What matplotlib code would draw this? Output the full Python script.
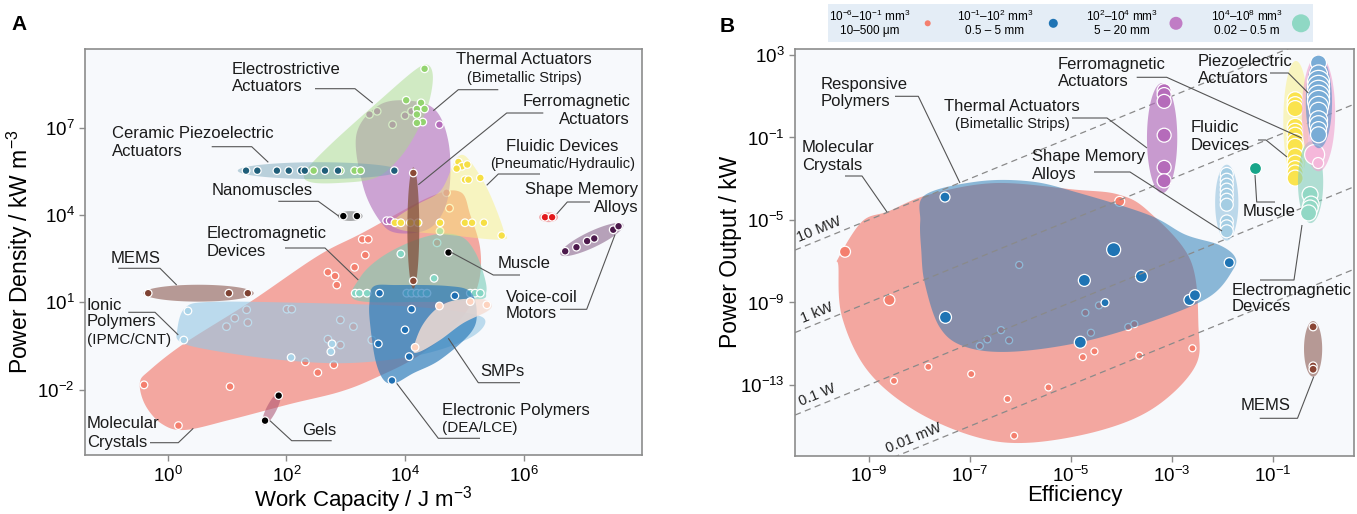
import numpy as np
import matplotlib
matplotlib.use("Agg")
import matplotlib.pyplot as plt
from matplotlib.patches import Polygon

plt.rcParams['font.family'] = ['Liberation Sans', 'DejaVu Sans']
plt.rcParams['mathtext.fontset'] = 'custom'
plt.rcParams['mathtext.rm'] = 'Liberation Sans'
plt.rcParams['mathtext.it'] = 'Liberation Sans:italic'
plt.rcParams['mathtext.bf'] = 'Liberation Sans:bold'
plt.rcParams['mathtext.sf'] = 'Liberation Sans'

# ---------------- DATA (log10 values) ----------------
# Panel A : x = log10 work capacity (J m^-3), y = log10 power density (kW m^-3)
A_mol_x = [-0.40, 1.05, 0.18, 2.32, 2.53, 2.80, 2.70, 2.82, 2.85, 3.15, 3.33, 3.28, 3.38, 4.75, 4.70, 4.54,
           1.33, 1.13, 0.99, 1.35, 2.01, 2.09, 2.91, 3.13, 2.70, 2.91, 3.44]
A_mol_y = [-1.84, -1.90, -3.24, -1.05, -1.42, -1.15, 2.03, 1.90, 1.59, 2.20, 2.62, 3.16, 3.16, 4.23, 4.76, 3.04,
           0.74, 0.45, 0.16, 0.30, 0.76, 0.76, 0.39, 0.16, -0.27, -0.47, -0.30]
A_mol_reg_x = [-0.47, -0.38, -0.10, 0.29, 1.05, 2.06, 2.90, 3.50, 4.25, 4.93, 5.23, 5.27, 5.10, 4.93, 4.42, 3.28, 2.53, 1.39, 0.29, -0.30]
A_mol_reg_y = [-1.77, -2.53, -3.18, -3.39, -3.04, -2.50, -2.08, -1.60, -0.81, 0.39, 1.59, 2.80, 4.00, 4.79, 4.62, 3.38, 2.59, 1.01, -0.40, -1.33]

A_ion_x = [0.34, 0.27, 2.08, 2.77, 2.75]
A_ion_y = [0.70, -0.30, -0.90, -0.43, -0.70]
A_ion_reg_x = [0.16, 0.29, 0.71, 2.23, 3.92, 4.93, 5.35, 5.10, 4.25, 3.07, 1.89, 0.71, 0.21]
A_ion_reg_y = [0.05, 0.80, 1.01, 0.98, 0.87, 0.67, 0.39, -0.22, -0.81, -1.09, -0.98, -0.64, -0.36]

A_emd_x = [3.93, 4.49, 3.16, 3.23, 3.36, 4.03, 4.11, 4.20, 4.28, 4.37, 5.10, 5.18, 5.27, 4.59]
A_emd_y = [2.66, 1.82, 1.31, 1.31, 1.31, 1.31, 1.31, 1.31, 1.31, 1.31, 1.31, 1.31, 1.31, 3.44]
A_emd_reg_x = [3.16, 3.24, 3.58, 4.09, 4.59, 4.96, 5.18, 5.33, 5.37, 5.23, 4.25]
A_emd_reg_y = [1.08, 1.84, 2.52, 3.07, 3.35, 3.24, 2.73, 1.94, 1.35, 1.08, 1.01]

A_elp_x = [3.57, 4.84, 4.11, 4.00, 3.55, 4.07, 3.78]
A_elp_y = [1.31, 1.22, 0.76, 0.05, -0.43, -0.87, -1.69]
A_elp_reg_x = [3.47, 3.86, 4.70, 5.10, 5.21, 5.10, 4.59, 4.14, 3.83, 3.64, 3.50, 3.41, 3.40]
A_elp_reg_y = [1.54, 1.59, 1.56, 1.36, 0.62, -0.07, -0.98, -1.44, -1.78, -1.67, -0.98, 0.28, 0.97]

A_smp_x = [4.58, 5.10, 5.38, 4.17]
A_smp_y = [0.87, 1.02, 0.91, -0.55]
A_smp_reg_x = [4.14, 4.28, 4.54, 4.87, 5.32, 5.46, 5.38, 4.98, 4.59, 4.25]
A_smp_reg_y = [-0.64, 0.16, 0.79, 1.08, 1.10, 0.91, 0.68, 0.28, -0.30, -0.70]

A_thm_x = [3.40, 3.53, 3.79, 4.00, 4.11, 4.58, 3.69, 3.75]
A_thm_y = [7.45, 7.56, 7.10, 7.41, 7.56, 7.10, 3.80, 3.80]
A_thm_reg_x = [3.18, 3.58, 4.14, 4.53, 4.73, 4.76, 4.65, 4.37, 3.86, 3.58, 3.30]
A_thm_reg_y = [6.76, 7.79, 7.91, 7.56, 6.53, 5.16, 4.13, 3.49, 3.38, 3.78, 4.94]

A_els_x = [4.33, 4.02, 4.27, 4.20, 4.33, 4.20, 4.30, 4.20, 2.46, 2.91, 3.15, 3.25]
A_els_y = [9.02, 7.94, 7.85, 7.64, 7.64, 7.45, 7.19, 7.16, 5.52, 5.52, 5.52, 5.52]
A_els_reg_x = [4.39, 4.47, 4.39, 4.17, 3.88, 3.50, 2.91, 2.40, 2.32, 2.74, 3.58, 4.17]
A_els_reg_y = [9.15, 8.71, 7.78, 6.75, 5.89, 5.27, 5.10, 5.13, 5.48, 6.41, 7.95, 8.98]

A_cer_x = [1.32, 1.51, 1.84, 2.04, 2.25, 2.31, 2.65, 2.87, 3.82]
A_cer_y = [5.52, 5.52, 5.52, 5.52, 5.52, 5.52, 5.52, 5.52, 5.52]
A_cer_ell = (2.54, 5.52, 1.36, 0.29)

A_flu_x = [4.90, 4.96, 5.05, 4.87, 5.01, 5.07, 5.27, 3.83, 3.93, 4.09, 4.22, 4.59, 5.01, 5.13, 5.33, 5.63]
A_flu_y = [5.82, 5.67, 5.73, 5.59, 5.21, 5.21, 5.27, 3.73, 3.73, 3.73, 3.73, 3.73, 3.73, 3.73, 3.73, 3.29]
A_flu_reg_x = [4.87, 5.04, 5.38, 5.66, 5.63, 4.70, 3.92, 3.83, 4.20, 4.59, 4.79]
A_flu_reg_y = [5.96, 5.98, 4.93, 3.49, 3.15, 3.32, 3.49, 3.84, 4.35, 4.81, 5.62]

A_fer_x = [4.14, 4.14]
A_fer_y = [5.44, 1.73]
A_fer_ell = (4.14, 3.55, 0.10, 2.08)

A_mem_x = [-0.33, 1.03, 1.35]
A_mem_y = [1.31, 1.31, 1.31]
A_mem_ell = (0.52, 1.31, 0.93, 0.29)

A_gel_x = [1.87, 1.64]
A_gel_y = [-2.21, -3.07]
A_gel_cap = (1.89, -2.11, 1.61, -3.22, 5)

A_nan_x = [2.96, 3.19]
A_nan_y = [3.96, 3.96]
A_nan_ell = (3.075, 3.96, 0.21, 0.17)

A_sma_x = [6.36, 6.48]
A_sma_y = [3.92, 3.92]
A_sma_ell = (6.42, 3.92, 0.16, 0.17)

A_vcm_x = [6.70, 6.89, 7.07, 7.19, 7.51, 7.60]
A_vcm_y = [2.75, 2.89, 3.10, 3.19, 3.49, 3.61]
A_vcm_cap = (6.62, 2.64, 7.68, 3.67, 8)

A_mus_x = [4.73]
A_mus_y = [2.74]

# Panel B : x = log10 efficiency, y = log10 power output (kW)
B_mol_x = [-9.47, -8.59, -8.50, -7.82, -6.97, -6.25, -5.44, -6.12, -4.76, -4.53, -3.64, -2.59, -4.03,
           -6.02, -6.80, -6.65, -6.38, -6.22, -4.71, -4.44, -4.60, -3.86, -3.74]
B_mol_y = [-6.54, -8.88, -12.80, -12.12, -12.47, -13.68, -13.12, -15.46, -11.65, -11.37, -11.58, -11.22, -4.10,
           -7.18, -11.11, -10.79, -10.34, -10.84, -9.50, -9.14, -10.47, -10.19, -10.05]
B_mol_d = [11, 11, 7, 7, 7, 7, 7, 7, 7, 7, 7, 7, 10, 7, 7, 7, 7, 7, 7, 7, 7, 7, 7]
B_mol_reg_x = [-9.60, -9.13, -8.61, -7.82, -6.50, -4.91, -4.05, -3.46, -2.63, -2.47, -2.54, -3.32, -4.39, -5.82, -6.89, -8.10, -9.03, -9.53, -9.60]
B_mol_reg_y = [-6.84, -5.07, -4.58, -3.78, -3.21, -3.53, -3.77, -4.58, -6.94, -10.18, -12.12, -14.06, -15.19, -15.80, -15.51, -14.22, -12.28, -9.69, -7.27]

B_rsp_x = [-7.49, -4.15, -7.48, -4.73, -3.60, -1.86, -4.32, -2.65, -2.54, -4.81]
B_rsp_y = [-3.89, -6.44, -9.72, -7.93, -7.73, -7.07, -9.01, -8.88, -8.65, -10.93]
B_rsp_d = [10, 14, 12, 12, 12, 10, 8, 11, 11, 12]
B_rsp_reg_x = [-7.88, -6.83, -5.80, -4.91, -3.46, -2.73, -2.07, -1.75, -1.79, -2.25, -3.32, -4.75, -6.18, -7.10, -7.60, -7.89, -7.96, -7.98]
B_rsp_reg_y = [-3.78, -3.13, -3.13, -3.64, -4.75, -5.71, -6.20, -6.78, -7.43, -8.72, -9.85, -10.90, -11.39, -11.14, -10.18, -8.07, -6.46, -5.07]

B_thm_x = [-3.15, -3.15, -3.15, -3.15, -3.15, -3.15]
B_thm_y = [1.27, 1.08, 0.75, -0.89, -2.45, -3.10]
B_thm_ell = (-3.19, -1.03, 0.30, 2.67)

B_sma_x = [-1.91] * 10
B_sma_y = [-2.77, -3.05, -3.29, -3.53, -3.78, -4.02, -4.26, -5.07, -5.31, -5.55]
B_sma_ell = (-1.91, -4.16, 0.23, 1.84)

B_mus_x = [-1.35]
B_mus_y = [-2.48]

B_flu_x = [-0.555] * 13
B_flu_y = [0.83, 0.59, 0.40, -0.46, -0.70, -0.89, -1.19, -1.43, -1.91, -2.24, -2.51, -2.72, -2.97]
B_flu_ell = (-0.54, -0.25, 0.25, 2.96)

B_emd_x = [-0.26, -0.24, -0.26, -0.29]
B_emd_y = [-3.77, -4.23, -4.42, -4.66]
B_emd_ell = (-0.25, -3.17, 0.25, 1.98)

B_fer_x = [-0.17, -0.10]
B_fer_y = [-1.83, -2.24]
B_fer_d = [20, 11]
B_fer_ell = (-0.093, 0.19, 0.33, 2.83)

B_pie_x = [-0.093] * 13
B_pie_y = [2.61, 2.08, 1.72, 1.48, 1.24, 1.00, 0.75, 0.51, 0.27, -0.14, -0.38, -0.62, -0.87]
B_pie_d = [16, 18, 22, 22, 22, 22, 22, 20, 18, 18, 18, 16, 16]
B_pie_ell = (-0.085, 0.71, 0.26, 2.23)

B_mem_x = [-0.20, -0.20, -0.20]
B_mem_y = [-10.18, -12.08, -12.24]
B_mem_ell = (-0.20, -11.25, 0.18, 1.35)

B_iso_c = [4, 0, -4, -8]
B_iso_lab = ['10 MW', '1 kW', '0.1 W', '0.01 mW']
B_iso_labx = [-10.36, -10.28, -10.32, -8.59]

LEG_top = [r'10$^{-6}$–10$^{-1}$ mm$^{3}$', r'10$^{-1}$–10$^{2}$ mm$^{3}$', r'10$^{2}$–10$^{4}$ mm$^{3}$', r'10$^{4}$–10$^{8}$ mm$^{3}$']
LEG_bot = ['10–500 μm', '0.5 – 5 mm', '5 – 20 mm', '0.02 – 0.5 m']

# ---------------- helpers ----------------
W, H = 1357, 514
BOX_A = (85, 49, 641.7, 455)
BOX_B = (795, 49, 1354, 455.5)
fig = plt.figure(figsize=(W / 100, H / 100), dpi=100)


def add_ax(box):
    l, t, r, b = box
    return fig.add_axes([l / W, 1 - b / H, (r - l) / W, (b - t) / H])


def catmull(P, n=16):
    P = np.asarray(P, float)
    N = len(P)
    t = np.linspace(0, 1, n, endpoint=False)[:, None]
    out = []
    for i in range(N):
        p0, p1, p2, p3 = P[i - 1], P[i], P[(i + 1) % N], P[(i + 2) % N]
        out.append(0.5 * (2 * p1 + (-p0 + p2) * t + (2 * p0 - 5 * p1 + 4 * p2 - p3) * t ** 2
                          + (-p0 + 3 * p1 - 3 * p2 + p3) * t ** 3))
    return np.vstack(out)


def ell_pts(e, n=120):
    cx, cy, a, b = e
    t = np.linspace(0, 2 * np.pi, n)
    return np.column_stack([cx + a * np.cos(t), cy + b * np.sin(t)])


def cap_pts(c, sx, sy, n=120):
    x0, y0, x1, y1, half = c
    p0 = np.array([x0 * sx, y0 * sy]); p1 = np.array([x1 * sx, y1 * sy])
    m = (p0 + p1) / 2; d = p1 - p0
    L = np.hypot(*d) / 2; ang = np.arctan2(d[1], d[0])
    t = np.linspace(0, 2 * np.pi, n)
    ex, ey = L * np.cos(t), half * np.sin(t)
    X = m[0] + ex * np.cos(ang) - ey * np.sin(ang)
    Y = m[1] + ex * np.sin(ang) + ey * np.cos(ang)
    return np.column_stack([X / sx, Y / sy])


def region(ax, P, color, alpha, z):
    P = np.asarray(P)
    ax.add_patch(Polygon(10 ** P, closed=True, facecolor=color, edgecolor='none', alpha=alpha, zorder=z))


def outline(xs, ys):
    return catmull(np.column_stack([xs, ys]))


def dots(ax, xs, ys, color, z, d=7.6, lw=0.9):
    d = np.broadcast_to(np.asarray(d, float), (len(xs),))
    ax.scatter(10 ** np.asarray(xs, float), 10 ** np.asarray(ys, float), s=(0.72 * d) ** 2, c=color,
               edgecolors='white', linewidths=lw, zorder=z)


def style(ax, xlim, ylim, xt, yt):
    ax.set_xscale('log'); ax.set_yscale('log')
    ax.set_xlim(10 ** xlim[0], 10 ** xlim[1]); ax.set_ylim(10 ** ylim[0], 10 ** ylim[1])
    ax.set_facecolor('#f7f9fc')
    for sp in ax.spines.values():
        sp.set_color('#8c8c8c'); sp.set_linewidth(1.2)
    ax.minorticks_off()
    ax.set_xticks([10.0 ** v for v in xt]); ax.set_yticks([10.0 ** v for v in yt])
    ax.minorticks_off()
    ax.tick_params(which='major', direction='out', length=4.5, width=1.0, color='#8c8c8c',
                   labelsize=13.5, pad=3)


def label(ax, box, items):
    l, t, r, b = box
    for it in items:
        s, px, py, ha = it[:4]
        size = it[4] if len(it) > 4 else 12
        ax.text((px - l) / (r - l), (b - py) / (b - t), s, transform=ax.transAxes, ha=ha, va='center',
                fontsize=size, color='#1a1a1a', zorder=60)


def leaders(ax, box, paths):
    l, t, r, b = box
    for p in paths:
        p = np.asarray(p, float)
        ax.plot((p[:, 0] - l) / (r - l), (b - p[:, 1]) / (b - t), transform=ax.transAxes, color='#555555',
                lw=0.8, zorder=59, clip_on=False, solid_capstyle='butt')


# ---------------- Panel A ----------------
axA = add_ax(BOX_A)
style(axA, (-1.395, 7.99), (-4.25, 9.70), [0, 2, 4, 6], [-2, 1, 4, 7])
sxA, syA = 59.3, 29.1

region(axA, outline(A_mol_reg_x, A_mol_reg_y), (240/255, 100/255, 85/255), 0.55, 1)
dots(axA, A_mol_x, A_mol_y, '#f47f6e', 2)
region(axA, outline(A_ion_reg_x, A_ion_reg_y), (150/255, 200/255, 228/255), 0.62, 3)
dots(axA, A_ion_x, A_ion_y, '#a9d3e8', 4)
region(axA, outline(A_emd_reg_x, A_emd_reg_y), (120/255, 205/255, 185/255), 0.6, 5)
dots(axA, A_emd_x, A_emd_y, '#86d6c4', 6)
region(axA, outline(A_elp_reg_x, A_elp_reg_y), (42/255, 122/255, 185/255), 0.68, 7)
dots(axA, A_elp_x, A_elp_y, '#1f6fb2', 8)
region(axA, outline(A_smp_reg_x, A_smp_reg_y), (245/255, 222/255, 212/255), 0.82, 9)
dots(axA, A_smp_x, A_smp_y, '#fdd3bf', 10)
region(axA, outline(A_thm_reg_x, A_thm_reg_y), (178/255, 110/255, 186/255), 0.62, 11)
dots(axA, A_thm_x, A_thm_y, '#b46cba', 12)
region(axA, outline(A_els_reg_x, A_els_reg_y), (170/255, 220/255, 140/255), 0.5, 13)
region(axA, ell_pts(A_cer_ell), (110/255, 160/255, 180/255), 0.45, 14)
dots(axA, A_els_x, A_els_y, '#93d46f', 15)
dots(axA, A_cer_x, A_cer_y, '#1f5e79', 15)
region(axA, outline(A_flu_reg_x, A_flu_reg_y), (248/255, 240/255, 120/255), 0.45, 16)
dots(axA, A_flu_x, A_flu_y, '#f6df45', 17)
region(axA, ell_pts(A_fer_ell), (130/255, 80/255, 60/255), 0.75, 18)
dots(axA, A_fer_x, A_fer_y, '#8a4a35', 19)
region(axA, ell_pts(A_mem_ell), (140/255, 90/255, 80/255), 0.6, 18)
dots(axA, A_mem_x, A_mem_y, '#7e4232', 19)
region(axA, cap_pts(A_gel_cap, sxA, syA), (170/255, 80/255, 110/255), 0.55, 18)
dots(axA, A_gel_x, A_gel_y, 'black', 19)
region(axA, ell_pts(A_nan_ell), (120/255, 120/255, 120/255), 0.6, 18)
dots(axA, A_nan_x, A_nan_y, 'black', 19)
region(axA, ell_pts(A_sma_ell), (230/255, 80/255, 80/255), 0.45, 18)
dots(axA, A_sma_x, A_sma_y, '#e3191c', 19)
region(axA, cap_pts(A_vcm_cap, sxA, syA), (130/255, 90/255, 130/255), 0.55, 18)
dots(axA, A_vcm_x, A_vcm_y, '#4c1a4c', 19)
dots(axA, A_mus_x, A_mus_y, 'black', 19)

label(axA, BOX_A, [
    ('Electrostrictive', 232, 69, 'left'), ('Actuators', 232, 86.3, 'left'),
    ('Thermal Actuators', 524.3, 59.7, 'center'), ('(Bimetallic Strips)', 524.3, 78, 'center', 10.5),
    ('Ferromagnetic', 630, 101.3, 'right'), ('Actuators', 630, 119.7, 'right'),
    ('Fluidic Devices', 562.3, 146.3, 'center'), ('(Pneumatic/Hydraulic)', 562.3, 164, 'center', 10.5),
    ('Shape Memory', 638.3, 189.7, 'right'), ('Alloys', 638.3, 207.3, 'right'),
    ('Ceramic Piezoelectric', 112.3, 134, 'left'), ('Actuators', 112.3, 152, 'left'),
    ('Nanomuscles', 211.7, 190.7, 'left'),
    ('Electromagnetic', 206.7, 233.7, 'left'), ('Devices', 206.7, 251.3, 'left'),
    ('MEMS', 111, 258.3, 'left'),
    ('Ionic', 86.7, 305, 'left'), ('Polymers', 86.7, 321.7, 'left'), ('(IPMC/CNT)', 86.7, 340, 'left', 11),
    ('Molecular', 86.7, 424, 'left'), ('Crystals', 86.7, 442.7, 'left'),
    ('Gels', 301.7, 430.7, 'left'),
    ('Muscle', 497.3, 264, 'left'),
    ('Voice-coil', 506, 297.7, 'left'), ('Motors', 506, 313.3, 'left'),
    ('SMPs', 480.7, 371.7, 'left'),
    ('Electronic Polymers', 441.7, 410.7, 'left'), ('(DEA/LCE)', 441.7, 428.3, 'left', 11),
])
leaders(axA, BOX_A, [
    [(315, 88.7), (355, 88.7), (372.7, 103)],
    [(498.3, 89.7), (458.3, 89.7), (433.3, 110.7)],
    [(543.3, 113), (506.7, 113), (418.3, 184.7)],
    [(540, 174), (498.3, 174), (486.7, 185.3)],
    [(590, 202), (567.3, 202), (556.7, 214)],
    [(211.7, 146.7), (251.7, 146.7), (268.3, 162.3)],
    [(278.3, 201.3), (318.3, 201.3), (339, 216.3)],
    [(285, 248), (325, 248), (358.3, 280)],
    [(118.3, 268.3), (160, 268.3), (176.7, 285)],
    [(128.3, 312.3), (155, 312.3), (178.3, 335)],
    [(150, 442.7), (178.3, 442.7), (193.3, 428.3)],
    [(331.7, 440.7), (291.7, 440.7), (270, 420.7)],
    [(520, 275), (493.3, 275), (450, 251.7)],
    [(560, 309.3), (586.7, 309.3), (615, 234.7)],
    [(520, 382.7), (478.3, 382.7), (448.3, 338.3)],
    [(480, 438.3), (438.3, 438.3), (396.7, 383.3)],
])
axA.set_xlabel(r'Work Capacity / J m$^{-3}$', fontsize=16)
axA.set_ylabel(r'Power Density / kW m$^{-3}$', fontsize=16.5)
axA.xaxis.set_label_coords(0.5, -0.072)
axA.yaxis.set_label_coords(-0.09, 0.5)

# ---------------- Panel B ----------------
axB = add_ax(BOX_B)
xlB, ylB = (-10.46, 0.61), (-16.42, 3.29)
style(axB, xlB, ylB, [-9, -7, -5, -3, -1], [-13, -9, -5, -1, 3])

region(axB, outline(B_mol_reg_x, B_mol_reg_y), (240/255, 100/255, 85/255), 0.55, 1)
dots(axB, B_mol_x, B_mol_y, '#f47f6e', 2, B_mol_d)
region(axB, outline(B_rsp_reg_x, B_rsp_reg_y), (31/255, 119/255, 180/255), 0.5, 3)
dots(axB, B_rsp_x, B_rsp_y, '#1f74b4', 4, B_rsp_d)

xs = np.linspace(xlB[0], xlB[1], 2)
p1 = axB.transData.transform((10 ** -10, 10 ** -6))
p2 = axB.transData.transform((10 ** -8, 10 ** -4))
ang = np.degrees(np.arctan2(p2[1] - p1[1], p2[0] - p1[0]))
for c, lab, lx in zip(B_iso_c, B_iso_lab, B_iso_labx):
    axB.plot(10 ** xs, 10 ** (xs + c), ls=(0, (5, 3.5)), color='#8a8a8a', lw=0.9, zorder=5)
    axB.text(10 ** lx, 10 ** (lx + c + 0.15), lab, rotation=ang, rotation_mode='anchor', ha='left',
             va='bottom', fontsize=10.5, color='#222222', zorder=6)

region(axB, ell_pts(B_thm_ell), (178/255, 110/255, 186/255), 0.68, 7)
dots(axB, B_thm_x, B_thm_y, '#b56bba', 8, 14)
region(axB, ell_pts(B_sma_ell), (140/255, 190/255, 220/255), 0.55, 7)
dots(axB, B_sma_x, B_sma_y, '#a4cde3', 8, 13)
dots(axB, B_mus_x, B_mus_y, '#17a589', 8, 12)
region(axB, ell_pts(B_flu_ell), (250/255, 240/255, 130/255), 0.5, 9)
dots(axB, B_flu_x, B_flu_y, '#fae34d', 10, 16)
region(axB, ell_pts(B_emd_ell), (130/255, 205/255, 185/255), 0.6, 11)
dots(axB, B_emd_x, B_emd_y, '#92d8c5', 12, 16)
region(axB, ell_pts(B_fer_ell), (240/255, 160/255, 205/255), 0.6, 13)
dots(axB, B_fer_x, B_fer_y, '#f5b7da', 14, B_fer_d)
region(axB, ell_pts(B_pie_ell), (80/255, 145/255, 200/255), 0.6, 15)
dots(axB, B_pie_x, B_pie_y, '#79acd6', 16, B_pie_d)
region(axB, ell_pts(B_mem_ell), (140/255, 90/255, 80/255), 0.6, 15)
dots(axB, B_mem_x, B_mem_y, '#8a4535', 16, 8)

label(axB, BOX_B, [
    ('Responsive', 821, 84, 'left'), ('Polymers', 821, 101.3, 'left'),
    ('Molecular', 801.7, 148, 'left'), ('Crystals', 801.7, 165.3, 'left'),
    ('Thermal Actuators', 1012, 106.3, 'center'), ('(Bimetallic Strips)', 1012, 124, 'center', 10.5),
    ('Ferromagnetic', 1058, 65, 'left'), ('Actuators', 1058, 81.7, 'left'),
    ('Shape Memory', 1032, 156.7, 'left'), ('Alloys', 1032, 175, 'left'),
    ('Piezoelectric', 1198, 61.3, 'left'), ('Actuators', 1198, 78.7, 'left'),
    ('Fluidic', 1191, 128, 'left'), ('Devices', 1191, 145.3, 'left'),
    ('Muscle', 1242.3, 211.3, 'left'),
    ('Electromagnetic', 1232, 290, 'left'), ('Devices', 1232, 306.7, 'left'),
    ('MEMS', 1240.6, 406, 'left'),
])
leaders(axB, BOX_B, [
    [(895, 96.3), (918.3, 96.3), (960, 183)],
    [(845, 176), (862, 176), (887, 212)],
    [(1072, 118), (1107, 118), (1147, 148)],
    [(1136.7, 77.3), (1166.7, 77.3), (1301.7, 138)],
    [(1094, 172), (1130, 172), (1222, 231)],
    [(1270, 73), (1288.3, 73), (1308.3, 93)],
    [(1258, 140), (1266, 140), (1287, 157)],
    [(1255, 175), (1256.7, 202), (1275, 202)],
    [(1260, 280), (1294, 280), (1302, 225)],
    [(1259.7, 418.3), (1297.5, 418.3), (1313.7, 376.7)],
])
axB.set_xlabel('Efficiency', fontsize=16)
axB.set_ylabel('Power Output / kW', fontsize=16.5)
axB.xaxis.set_label_coords(0.5, -0.072)
axB.yaxis.set_label_coords(-0.095, 0.5)

# ---------------- Legend (panel B) ----------------
lx0, ly0, lx1, ly1 = 828, 4, 1313, 42
axL = fig.add_axes([lx0 / W, 1 - ly1 / H, (lx1 - lx0) / W, (ly1 - ly0) / H])
axL.set_facecolor('#e4edf6')
for sp in axL.spines.values():
    sp.set_visible(False)
axL.set_xticks([]); axL.set_yticks([])
axL.set_xlim(0, lx1 - lx0); axL.set_ylim(0, ly1 - ly0)
leg_tx = [42, 167, 293.7, 418.7]
leg_dx = [99.7, 225.3, 348, 473]
leg_d = [6, 9, 13, 18]
leg_c = ['#f47f6e', '#1f74b4', '#c07cc5', '#8fd8c4']
for tx, dx, d, c, t1, t2 in zip(leg_tx, leg_dx, leg_d, leg_c, LEG_top, LEG_bot):
    axL.text(tx, 25.3, t1, ha='center', va='center', fontsize=8.5)
    axL.text(tx, 11.3, t2, ha='center', va='center', fontsize=8.5)
    axL.scatter([dx], [18.7], s=(0.72 * d) ** 2, c=c, edgecolors='none')

fig.text(19 / W, 1 - 24 / H, 'A', fontsize=15, fontweight='bold', ha='center', va='center')
fig.text(727 / W, 1 - 26 / H, 'B', fontsize=15, fontweight='bold', ha='center', va='center')

fig.savefig('out.png', dpi=100)
